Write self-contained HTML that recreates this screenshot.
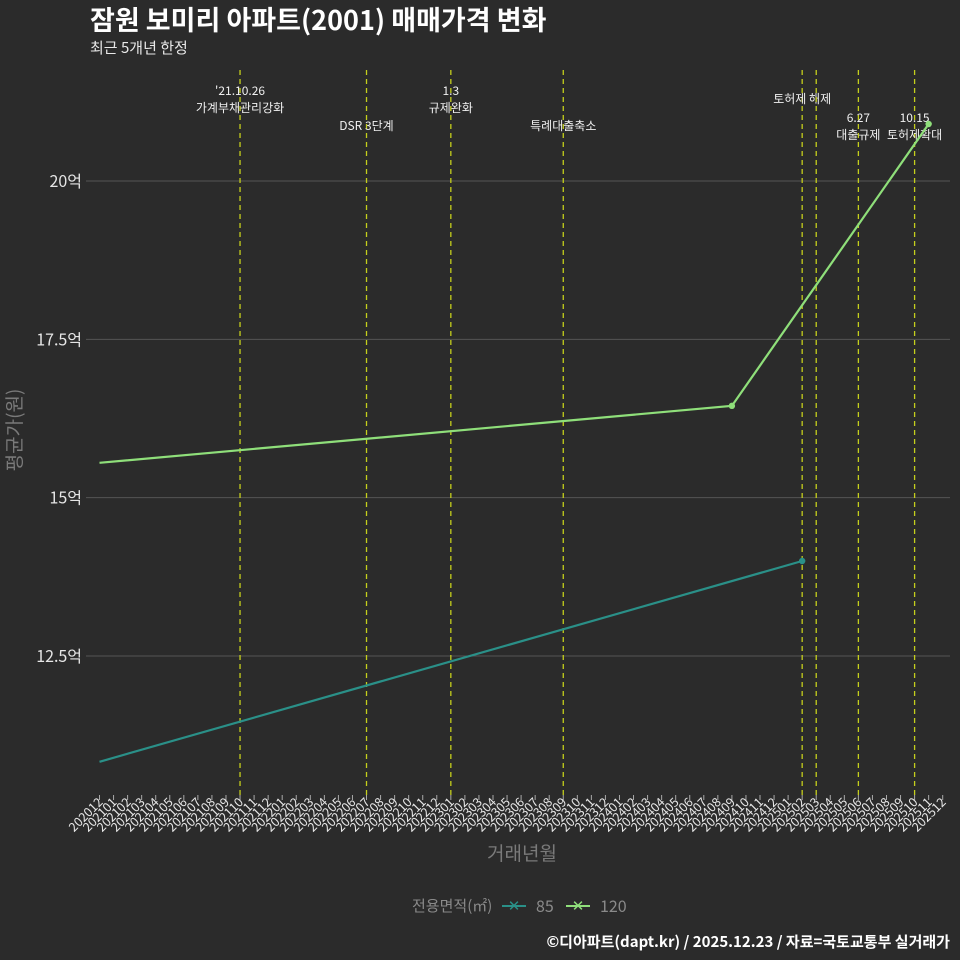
<!DOCTYPE html>
<html><head><meta charset="utf-8">
<style>
html,body{margin:0;padding:0;background:#2b2b2b;}
svg{display:block;font-family:"Noto Sans CJK KR","Liberation Sans",sans-serif;}
</style></head>
<body>
<svg id="chart" width="960" height="960" xmlns="http://www.w3.org/2000/svg">
<rect width="960" height="960" fill="#2b2b2b"/>
<text x="90" y="30" fill="#ffffff" font-size="27" font-weight="bold">잠원 보미리 아파트(2001) 매매가격 변화</text>
<text x="90" y="53" fill="#e8e8e8" font-size="15">최근 5개년 한정</text>
<g id="grid"></g>
<g id="vlines"></g>
<g id="series"></g>
<g id="xaxis"></g>
<text x="0" y="0" transform="translate(21,430) rotate(-90)" text-anchor="middle" fill="#7a7a7a" font-size="19">평균가(원)</text>
<text x="522" y="860" text-anchor="middle" fill="#7a7a7a" font-size="19">거래년월</text>
<g>
<text x="412" y="911" fill="#8a8a8a" font-size="15">전용면적(㎡)</text>
<g>
<line x1="502" y1="906" x2="526" y2="906" stroke="#2a9088" stroke-width="2"/>
<text x="514" y="911" text-anchor="middle" fill="#2a9088" font-size="15">✕</text>
<text x="536" y="912" fill="#8a8a8a" font-size="16">85</text></g>
<g>
<line x1="566" y1="906" x2="590" y2="906" stroke="#8fdf7a" stroke-width="2"/>
<text x="578" y="911" text-anchor="middle" fill="#8fdf7a" font-size="15">✕</text>
<text x="600" y="912" fill="#8a8a8a" font-size="16">120</text></g>
</g>
<text x="950" y="947" text-anchor="end" fill="#ffffff" font-size="15" font-weight="bold">©디아파트(dapt.kr) / 2025.12.23 / 자료=국토교통부 실거래가</text>
</svg>
<script>
// data
const months = [];
for (let y = 2020, m = 12; !(y === 2026 && m === 1); ) { months.push(y + '' + (m < 10 ? '0' + m : m)); m++; if (m > 12) { m = 1; y++; } }
const yTicks = [12.5, 15, 17.5, 20];
const yTickLabels = ['12.5억', '15억', '17.5억', '20억'];
const s85Months = ['202012', '202502'];
const s85Values = [10.83, 14.0];
const s120Months = ['202012', '202409', '202511'];
const s120Values = [15.55, 16.45, 20.9];
const eventMonths = ['202110', '202207', '202301', '202309', '202502', '202503', '202506', '202510'];
const eventLabels = [["'21.10.26", '가계부채관리강화'], ['DSR 3단계'], ['1.3', '규제완화'], ['특례대출축소'], ['토허제 해제'], [], ['6.27', '대출규제'], ['10.15', '토허제확대']];

const NS = 'http://www.w3.org/2000/svg';
const x0 = 99.5, x1 = 942.7;
function xScale(mo) { const i = months.indexOf(mo); return x0 + (x1 - x0) * i / (months.length - 1); }
function yScale(v) { return 181 + (20 - v) * (656 - 181) / 7.5; }
function mk(tag, attrs, parent) { const e = document.createElementNS(NS, tag); for (const k in attrs) e.setAttribute(k, attrs[k]); parent.appendChild(e); return e; }

const grid = document.getElementById('grid');
yTicks.forEach((t, i) => {
  const y = yScale(t);
  const l = mk('line', {x1: 86, x2: 950, y1: y, y2: y, stroke: '#555555', 'stroke-width': 1}, grid);
  
  
  const tx = mk('text', {x: 82, y: y + 6, 'text-anchor': 'end', fill: '#e6e6e6', 'font-size': 16}, grid);
  tx.textContent = yTickLabels[i];
  
  
});

const vg = document.getElementById('vlines');
const labelYs = [[95, 112], [130], [95, 112], [130], [103], [], [122, 139], [122, 139]];
eventMonths.forEach((mo, i) => {
  const x = xScale(mo);
  const l = mk('line', {x1: x, x2: x, y1: 70, y2: 798, stroke: '#c5cf1c', 'stroke-width': 1.3, 'stroke-dasharray': '5,4'}, vg);
  
  
  eventLabels[i].forEach((s, j) => {
    const t = mk('text', {x: x, y: labelYs[i][j], 'text-anchor': 'middle', fill: '#f0f0f0', 'font-size': 12}, vg);
    t.textContent = s;
    
    
  });
});

const sg = document.getElementById('series');
function drawSeries(ms, vs, color, name) {
  const pts = ms.map((m, i) => xScale(m) + ',' + yScale(vs[i])).join(' ');
  const p = mk('polyline', {points: pts, fill: 'none', stroke: color, 'stroke-width': 2.2}, sg);
  
  
  ms.forEach((m, i) => {
    if (i === 0) return;
    const c = mk('circle', {cx: xScale(m), cy: yScale(vs[i]), r: 3.2, fill: color}, sg);
    
    
  });
}
drawSeries(s85Months, s85Values, '#2a9088', 'series-85');
drawSeries(s120Months, s120Values, '#8fdf7a', 'series-120');

const xg = document.getElementById('xaxis');
months.forEach(mo => {
  const x = xScale(mo);
  const t = mk('line', {x1: x, x2: x, y1: 795, y2: 800, stroke: '#aaaaaa', 'stroke-width': 1}, xg);
  
  
  const tx = mk('text', {x: 0, y: 0, transform: 'translate(' + (x + 4) + ',803) rotate(-45)', 'text-anchor': 'end', fill: '#e6e6e6', 'font-size': 12.5}, xg);
  tx.textContent = mo;
  
  
});
</script>
</body></html>
